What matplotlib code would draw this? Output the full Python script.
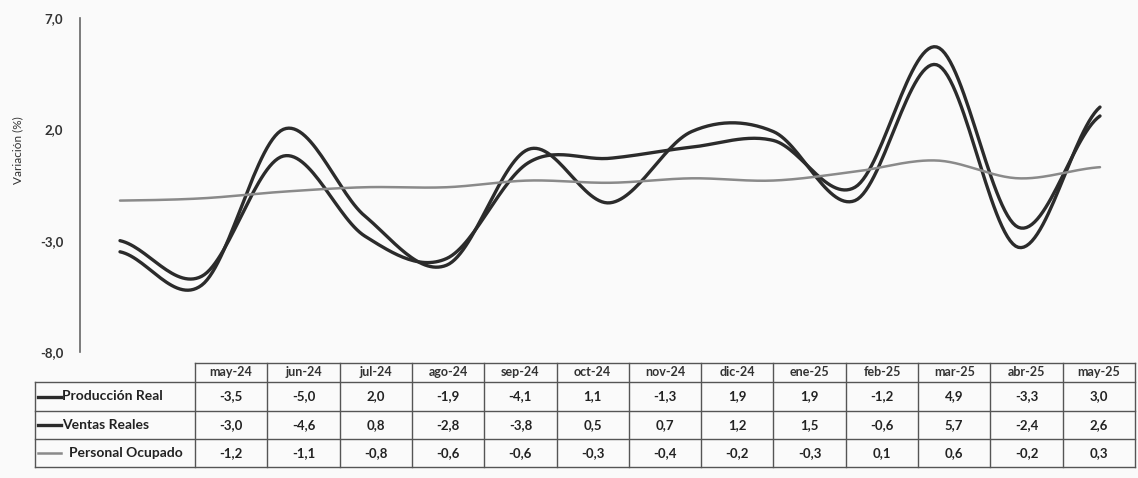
import numpy as np
import matplotlib
matplotlib.use("Agg")
import matplotlib.pyplot as plt
from matplotlib.lines import Line2D

plt.rcParams['font.family'] = ['Lato', 'DejaVu Sans']

# Datos de la tabla
meses = ['may-24', 'jun-24', 'jul-24', 'ago-24', 'sep-24', 'oct-24', 'nov-24',
         'dic-24', 'ene-25', 'feb-25', 'mar-25', 'abr-25', 'may-25']
produccion_real = [-3.5, -5.0, 2.0, -1.9, -4.1, 1.1, -1.3, 1.9, 1.9, -1.2, 4.9, -3.3, 3.0]
ventas_reales = [-3.0, -4.6, 0.8, -2.8, -3.8, 0.5, 0.7, 1.2, 1.5, -0.6, 5.7, -2.4, 2.6]
personal_ocupado = [-1.2, -1.1, -0.8, -0.6, -0.6, -0.3, -0.4, -0.2, -0.3, 0.1, 0.6, -0.2, 0.3]

series = [('Producción Real', produccion_real, '#2b2b2b', 2.4),
          ('Ventas Reales', ventas_reales, '#2b2b2b', 2.4),
          ('Personal Ocupado', personal_ocupado, '#8a8a8a', 1.8)]
y_ticks = [7.0, 2.0, -3.0, -8.0]


# Curva suave que pasa por los puntos (Catmull-Rom)
def suavizar(valores, pasos=30):
    y = np.array(valores, dtype=float)
    n = len(y)
    xs, ys = [], []
    for i in range(n - 1):
        p0 = y[max(i - 1, 0)]
        p1 = y[i]
        p2 = y[i + 1]
        p3 = y[min(i + 2, n - 1)]
        t = np.linspace(0, 1, pasos, endpoint=False)
        v = 0.5 * (2 * p1 + (-p0 + p2) * t + (2 * p0 - 5 * p1 + 4 * p2 - p3) * t ** 2
                   + (-p0 + 3 * p1 - 3 * p2 + p3) * t ** 3)
        xs.extend(i + t)
        ys.extend(v)
    xs.append(n - 1)
    ys.append(y[-1])
    return np.array(xs), np.array(ys)


W, H = 1138, 478
fig = plt.figure(figsize=(W / 100, H / 100), dpi=100, facecolor='#fafafa')

# Grafico de lineas
ax = fig.add_axes([80 / W, 1 - 352 / H, (W - 80) / W, (352 - 18) / H])
ax.set_facecolor('none')
for nombre, valores, color, lw in series:
    xs, ys = suavizar(valores)
    ax.plot(xs, ys, color=color, lw=lw, solid_capstyle='round')

ax.set_xlim(-40 / 81.67, 12 + 38 / 81.67)
ax.set_ylim(-8, 7)
ax.set_yticks(y_ticks)
ax.set_yticklabels([f'{v:.1f}'.replace('.', ',') for v in y_ticks],
                   fontsize=9.5, fontweight='bold', color='#333333')
ax.tick_params(axis='y', length=0, pad=12)
ax.set_xticks([])
for s in ['top', 'right', 'bottom']:
    ax.spines[s].set_visible(False)
ax.spines['left'].set_color('#666666')
ax.spines['left'].set_linewidth(1.2)
fig.text(18 / W, 1 - 150 / H, 'Variación (%)', rotation=90, ha='center', va='center',
         fontsize=8.5, color='#333333')

# Tabla de datos (coordenadas en pixeles)
tx = fig.add_axes([0, 0, 1, 1])
tx.set_xlim(0, W)
tx.set_ylim(H, 0)
tx.axis('off')

x0, x1 = 195, 1135
lx = 35
col_w = (x1 - x0) / len(meses)
y_head, y_rows = 363, [382, 411, 439, 467]
lc = '#555555'

# Bordes
tx.plot([x0, x1], [y_head, y_head], color=lc, lw=1)
for yy in y_rows:
    tx.plot([lx, x1], [yy, yy], color=lc, lw=1)
tx.plot([lx, lx], [y_rows[0], y_rows[-1]], color=lc, lw=1)
for j in range(len(meses) + 1):
    xx = x0 + j * col_w
    tx.plot([xx, xx], [y_head, y_rows[-1]], color=lc, lw=1)

for j, mes in enumerate(meses):
    tx.text(x0 + (j + 0.5) * col_w, (y_head + y_rows[0]) / 2, mes,
            ha='center', va='center', fontsize=9, fontweight='bold', color='#333333')

for i, (nombre, valores, color, lw) in enumerate(series):
    yc = (y_rows[i] + y_rows[i + 1]) / 2
    tx.add_line(Line2D([lx + 3, lx + 26], [yc, yc], color=color, lw=lw))
    tx.text(lx + 27 if i < 2 else lx + 34, yc, nombre, ha='left', va='center',
            fontsize=10, fontweight='bold', color='#222222')
    for j, v in enumerate(valores):
        tx.text(x0 + (j + 0.5) * col_w, yc, f'{v:.1f}'.replace('.', ','),
                ha='center', va='center', fontsize=9.5, fontweight='bold', color='#222222')

fig.savefig('out.png', dpi=100, facecolor=fig.get_facecolor())
